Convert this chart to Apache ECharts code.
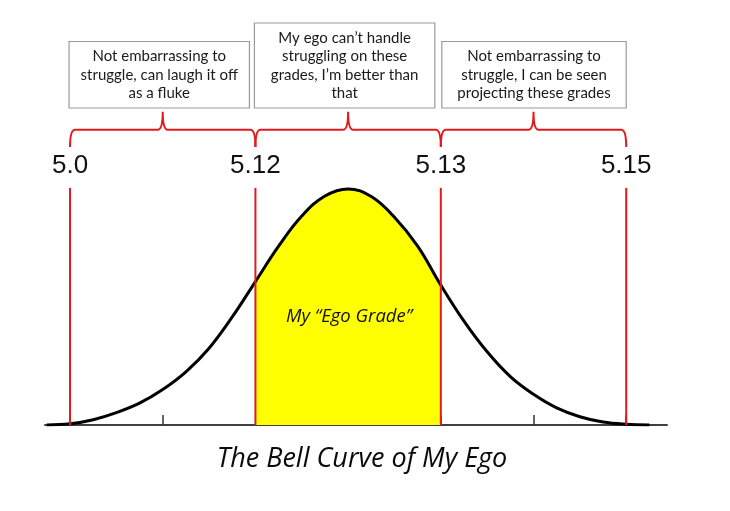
<!DOCTYPE html>
<html>
<head>
<meta charset="utf-8">
<script src="https://cdn.jsdelivr.net/npm/echarts@6/dist/echarts.min.js"></script>
<style>
  html, body { margin: 0; padding: 0; background: #fff; }
  #main { width: 730px; height: 511px; }
</style>
</head>
<body>
<div id="main"></div>
<script>
// bell curve (x in std-dev steps, y = curve height)
var curveX = [-3.25, -3.0, -2.75, -2.5, -2.25, -2.0, -1.75, -1.5, -1.25, -1.0, -0.75, -0.5, -0.25, 0,
  0.25, 0.5, 0.75, 1.0, 1.25, 1.5, 1.75, 2.0, 2.25, 2.5, 2.75, 3.0, 3.25];
var curveY = [0, 0.002, 0.009, 0.021, 0.037, 0.06, 0.09, 0.13, 0.183, 0.243, 0.303, 0.354, 0.388, 0.4,
  0.387, 0.352, 0.303, 0.237, 0.176, 0.124, 0.082, 0.052, 0.029, 0.014, 0.005, 0.0012, 0];

// red cut lines and their grade labels
var cutX = [-3, -1, 1, 3];
var cutLabels = ["5.0", "5.12", "5.13", "5.15"];
var tickValues = [-3, -2, -1, 0, 1, 2, 3];

// the shaded "ego grade" band
var bandFrom = -1, bandTo = 1;
var bandLabel = "My \u201cEgo Grade\u201d";

// text of the three boxes over the braces
var boxTexts = [
  ["Not embarrassing to", "struggle, can laugh it off", "as a fluke"],
  ["My ego can\u2019t handle", "struggling on these", "grades, I\u2019m better than", "that"],
  ["Not embarrassing to", "struggle, I can be seen", "projecting these grades"]
];
var chartTitle = "The Bell Curve of My Ego";

// layout (data units on the y axis)
var lineTop = 0.4017, labelY = 0.439, braceEnd = 0.471, braceMid = 0.5, braceCusp = 0.5305, boxBottom = 0.537;
var boxPad = [[-1, -6], [-1, -6], [1, 0]];
var RED = "#e3191c";

var curveData = curveX.map(function (x, i) { return [x, curveY[i]]; });
var bandData = curveData.filter(function (p) { return p[0] >= bandFrom && p[0] <= bandTo; });

var myChart = echarts.init(document.getElementById("main"));

function renderNotes(params, api) {
  var children = [];
  // red vertical lines + labels
  cutX.forEach(function (x, i) {
    var p0 = api.coord([x, 0]);
    var p1 = api.coord([x, lineTop]);
    children.push({
      type: "line",
      shape: { x1: p0[0], y1: p0[1], x2: p1[0], y2: p1[1] },
      style: { stroke: RED, lineWidth: 2 }
    });
    var pl = api.coord([x, labelY]);
    children.push({
      type: "text",
      style: {
        text: cutLabels[i], x: pl[0], y: pl[1],
        align: "center", verticalAlign: "middle",
        textAlign: "center", textVerticalAlign: "middle",
        font: "26px 'Liberation Sans', Arial, sans-serif", fill: "#111"
      }
    });
  });
  // braces and boxes
  for (var i = 0; i < cutX.length - 1; i++) {
    var a = cutX[i], b = cutX[i + 1], m = (a + b) / 2;
    var ax = api.coord([a, 0])[0], bx = api.coord([b, 0])[0], mx = api.coord([m, 0])[0];
    var yE = api.coord([0, braceEnd])[1], yM = api.coord([0, braceMid])[1], yC = api.coord([0, braceCusp])[1];
    var r = 5;
    var d = "M" + ax + "," + yE +
      " Q" + ax + "," + yM + " " + (ax + r) + "," + yM +
      " L" + (mx - r) + "," + yM +
      " Q" + mx + "," + yM + " " + mx + "," + yC +
      " Q" + mx + "," + yM + " " + (mx + r) + "," + yM +
      " L" + (bx - r) + "," + yM +
      " Q" + bx + "," + yM + " " + bx + "," + yE;
    children.push({
      type: "path",
      shape: { pathData: d },
      style: { stroke: RED, lineWidth: 2, fill: null }
    });

    var lines = boxTexts[i];
    var bottom = api.coord([0, boxBottom])[1];
    var h = lines.length * 18.5 + 11;
    var left = ax + boxPad[i][0], right = bx + boxPad[i][1];
    children.push({
      type: "rect",
      shape: { x: left, y: bottom - h, width: right - left, height: h },
      style: { fill: "#fff", stroke: "#9a9a9a", lineWidth: 1.2 }
    });
    children.push({
      type: "text",
      style: {
        text: lines.join("\n"), x: (left + right) / 2, y: bottom - h / 2,
        align: "center", verticalAlign: "middle",
        textAlign: "center", textVerticalAlign: "middle",
        lineHeight: 18.5,
        font: "15px Lato, 'Open Sans', sans-serif", fill: "#1a1a1a"
      }
    });
  }
  return { type: "group", children: children };
}

myChart.setOption({
  animation: false,
  title: {
    text: chartTitle,
    left: 357,
    top: 441,
    textAlign: "center",
    textStyle: { fontFamily: "Open Sans", fontStyle: "italic", fontWeight: "normal", fontSize: 27, color: "#0a0a0a" }
  },
  grid: { left: 45, right: 63, top: 0, bottom: 86 },
  xAxis: {
    type: "value",
    min: -3.27,
    max: 3.44,
    axisLine: { show: true, lineStyle: { color: "#404040", width: 2 } },
    axisTick: { show: true, inside: true, length: 10, customValues: tickValues, lineStyle: { color: "#333", width: 1.5 } },
    axisLabel: { show: false },
    splitLine: { show: false }
  },
  yAxis: { type: "value", min: 0, max: 0.72, show: false },
  series: [
    {
      name: "band",
      type: "line",
      data: bandData,
      smooth: 0.4,
      showSymbol: false,
      lineStyle: { width: 0 },
      areaStyle: { color: "#ffff00", opacity: 1 },
      z: 1,
      markPoint: {
        symbolSize: 0,
        data: [{ coord: [0.01, 0.183] }],
        label: {
          show: true, position: "inside", formatter: bandLabel,
          fontFamily: "Open Sans", fontStyle: "italic", fontSize: 18.5, color: "#111"
        }
      }
    },
    {
      name: "curve",
      type: "line",
      data: curveData,
      smooth: 0.4,
      showSymbol: false,
      lineStyle: { color: "#000", width: 3 },
      z: 3
    },
    {
      name: "notes",
      type: "custom",
      data: [[0, 0]],
      renderItem: renderNotes,
      silent: true,
      z: 4
    }
  ]
});
</script>
</body>
</html>
